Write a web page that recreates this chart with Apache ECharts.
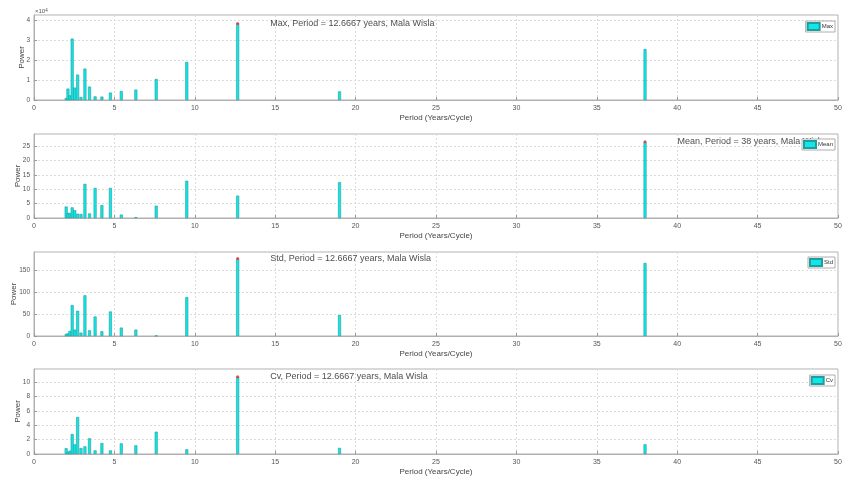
<!DOCTYPE html>
<html>
<head>
<meta charset="utf-8">
<script src="https://cdn.jsdelivr.net/npm/echarts@6/dist/echarts.min.js"></script>
<style>html,body{margin:0;padding:0;background:#fff;}#c{width:848px;height:477px;}</style>
</head>
<body>
<div id="c"></div>
<script>
// Periods (years/cycle) of the periodogram bars
var periods = [2.0, 2.1111, 2.2353, 2.375, 2.5333, 2.7143, 2.9231, 3.1667, 3.4545, 3.8, 4.2222, 4.75, 5.4286, 6.3333, 7.6, 9.5, 12.6667, 19, 38];
// Power values per panel
var maxPower  = [1000, 5700, 2300, 30700, 6200, 12700, 1500, 15700, 6700, 1800, 1700, 3700, 4500, 5200, 10500, 19000, 38300, 4300, 25500];
var meanPower = [4.0, 1.75, 1.75, 3.7, 2.7, 1.5, 1.4, 11.9, 1.6, 10.5, 4.5, 10.5, 1.2, 0.3, 4.3, 13.0, 7.8, 12.5, 26.6];
var stdPower  = [4.6, 6, 11.5, 70.8, 14.6, 57.7, 7.7, 93, 13, 44.6, 10.8, 56, 19.2, 14.6, 1, 89, 177, 48, 167];
var cvPower   = [0.8, 0.3, 0.46, 2.78, 1.34, 5.14, 0.83, 1.06, 2.18, 0.5, 1.53, 0.5, 1.48, 1.2, 3.1, 0.65, 10.74, 0.85, 1.35];
var panelNames = ['Max', 'Mean', 'Std', 'Cv'];
var peakTitles = ['Max, Period = 12.6667 years, Mala Wisla', 'Mean, Period = 38 years, Mala Wisla', 'Std, Period = 12.6667 years, Mala Wisla', 'Cv, Period = 12.6667 years, Mala Wisla'];
var yMax = [42500, 29.3, 192, 11.8];
var yInterval = [10000, 5, 50, 2];
var xTicks = [0, 50, 5];

var panels = [maxPower, meanPower, stdPower, cvPower];
var tops = [15, 134, 252, 369];
var heights = [85, 84, 84, 85];
var legendTops = [21, 139, 257, 375];
var yNameGaps = [8, 12, 16, 12];

var grids = [], xAxes = [], yAxes = [], series = [], legends = [];
panels.forEach(function (vals, i) {
  grids.push({left: 34, right: 10, top: tops[i], height: heights[i], containLabel: false, outerBoundsMode: 'none',
    show: true, borderColor: '#b0b0b0', borderWidth: 1, backgroundColor: '#fff'});
  xAxes.push({
    gridIndex: i, type: 'value', min: xTicks[0], max: xTicks[1], interval: xTicks[2],
    name: 'Period (Years/Cycle)', nameLocation: 'middle', nameGap: 14, nameMoveOverlap: false,
    nameTextStyle: {fontSize: 8, color: '#444', fontFamily: 'Liberation Sans'},
    axisLine: {show: true, lineStyle: {color: '#b0b0b0'}},
    axisTick: {show: true, inside: true, length: 3, lineStyle: {color: '#999'}},
    axisLabel: {fontSize: 7, color: '#555', margin: 5, fontFamily: 'Liberation Sans'},
    splitLine: {show: true, lineStyle: {color: '#dcdcdc', type: [2, 2], width: 1}}
  });
  yAxes.push({
    gridIndex: i, type: 'value', min: 0, max: yMax[i], interval: yInterval[i],
    name: 'Power', nameLocation: 'middle', nameGap: yNameGaps[i], nameMoveOverlap: false,
    nameTextStyle: {fontSize: 8, color: '#444', fontFamily: 'Liberation Sans'},
    axisLine: {show: true, lineStyle: {color: '#b0b0b0'}},
    axisTick: {show: true, inside: true, length: 3, lineStyle: {color: '#999'}},
    axisLabel: {fontSize: 6.5, color: '#555', margin: 4, showMaxLabel: false, fontFamily: 'Liberation Sans',
      formatter: i === 0 ? function (v) { return String(v / 10000); } : null},
    splitLine: {show: true, lineStyle: {color: '#dcdcdc', type: [2, 2], width: 1}}
  });
  var data = periods.map(function (p, k) { return [p, vals[k]]; });
  series.push({
    name: panelNames[i], type: 'bar', xAxisIndex: i, yAxisIndex: i, data: data,
    barWidth: 3, itemStyle: {color: '#12e6e6', borderColor: '#1f9e9e', borderWidth: 0.6},
    animation: false, z: 2
  });
  var best = 0;
  vals.forEach(function (v, k) { if (v > vals[best]) best = k; });
  series.push({
    name: 'peak' + i, type: 'scatter', xAxisIndex: i, yAxisIndex: i,
    data: [[periods[best], vals[best]]], symbol: 'circle', symbolSize: 3,
    itemStyle: {color: '#ff2020'}, animation: false, z: 3,
    label: {show: true, position: 'right', distance: 31, formatter: peakTitles[i],
      fontSize: 9, color: '#1a1a1a', fontFamily: 'Liberation Sans'}
  });
  legends.push({
    data: [{name: panelNames[i], icon: 'rect'}], right: 13, top: legendTops[i], orient: 'vertical',
    itemWidth: 12, itemHeight: 7, itemGap: 0, padding: [1, 2, 1, 1],
    backgroundColor: '#fff', borderColor: '#999', borderWidth: 0.8, borderRadius: 0,
    textStyle: {fontSize: 6, color: '#333', fontFamily: 'Liberation Sans', padding: [0, 0, 0, -3]},
    z: 10
  });
});

var chart = echarts.init(document.getElementById('c'), null, {renderer: 'canvas'});
chart.setOption({
  backgroundColor: '#fff',
  animation: false,
  grid: grids, xAxis: xAxes, yAxis: yAxes, series: series, legend: legends,
  graphic: [{
    type: 'text', left: 35, top: 8,
    style: {text: '×10{s|4}', fontSize: 6, fill: '#555', fontFamily: 'Liberation Sans',
      rich: {s: {fontSize: 4.5, verticalAlign: 'top', fill: '#555'}}}
  }]
});
</script>
</body>
</html>
